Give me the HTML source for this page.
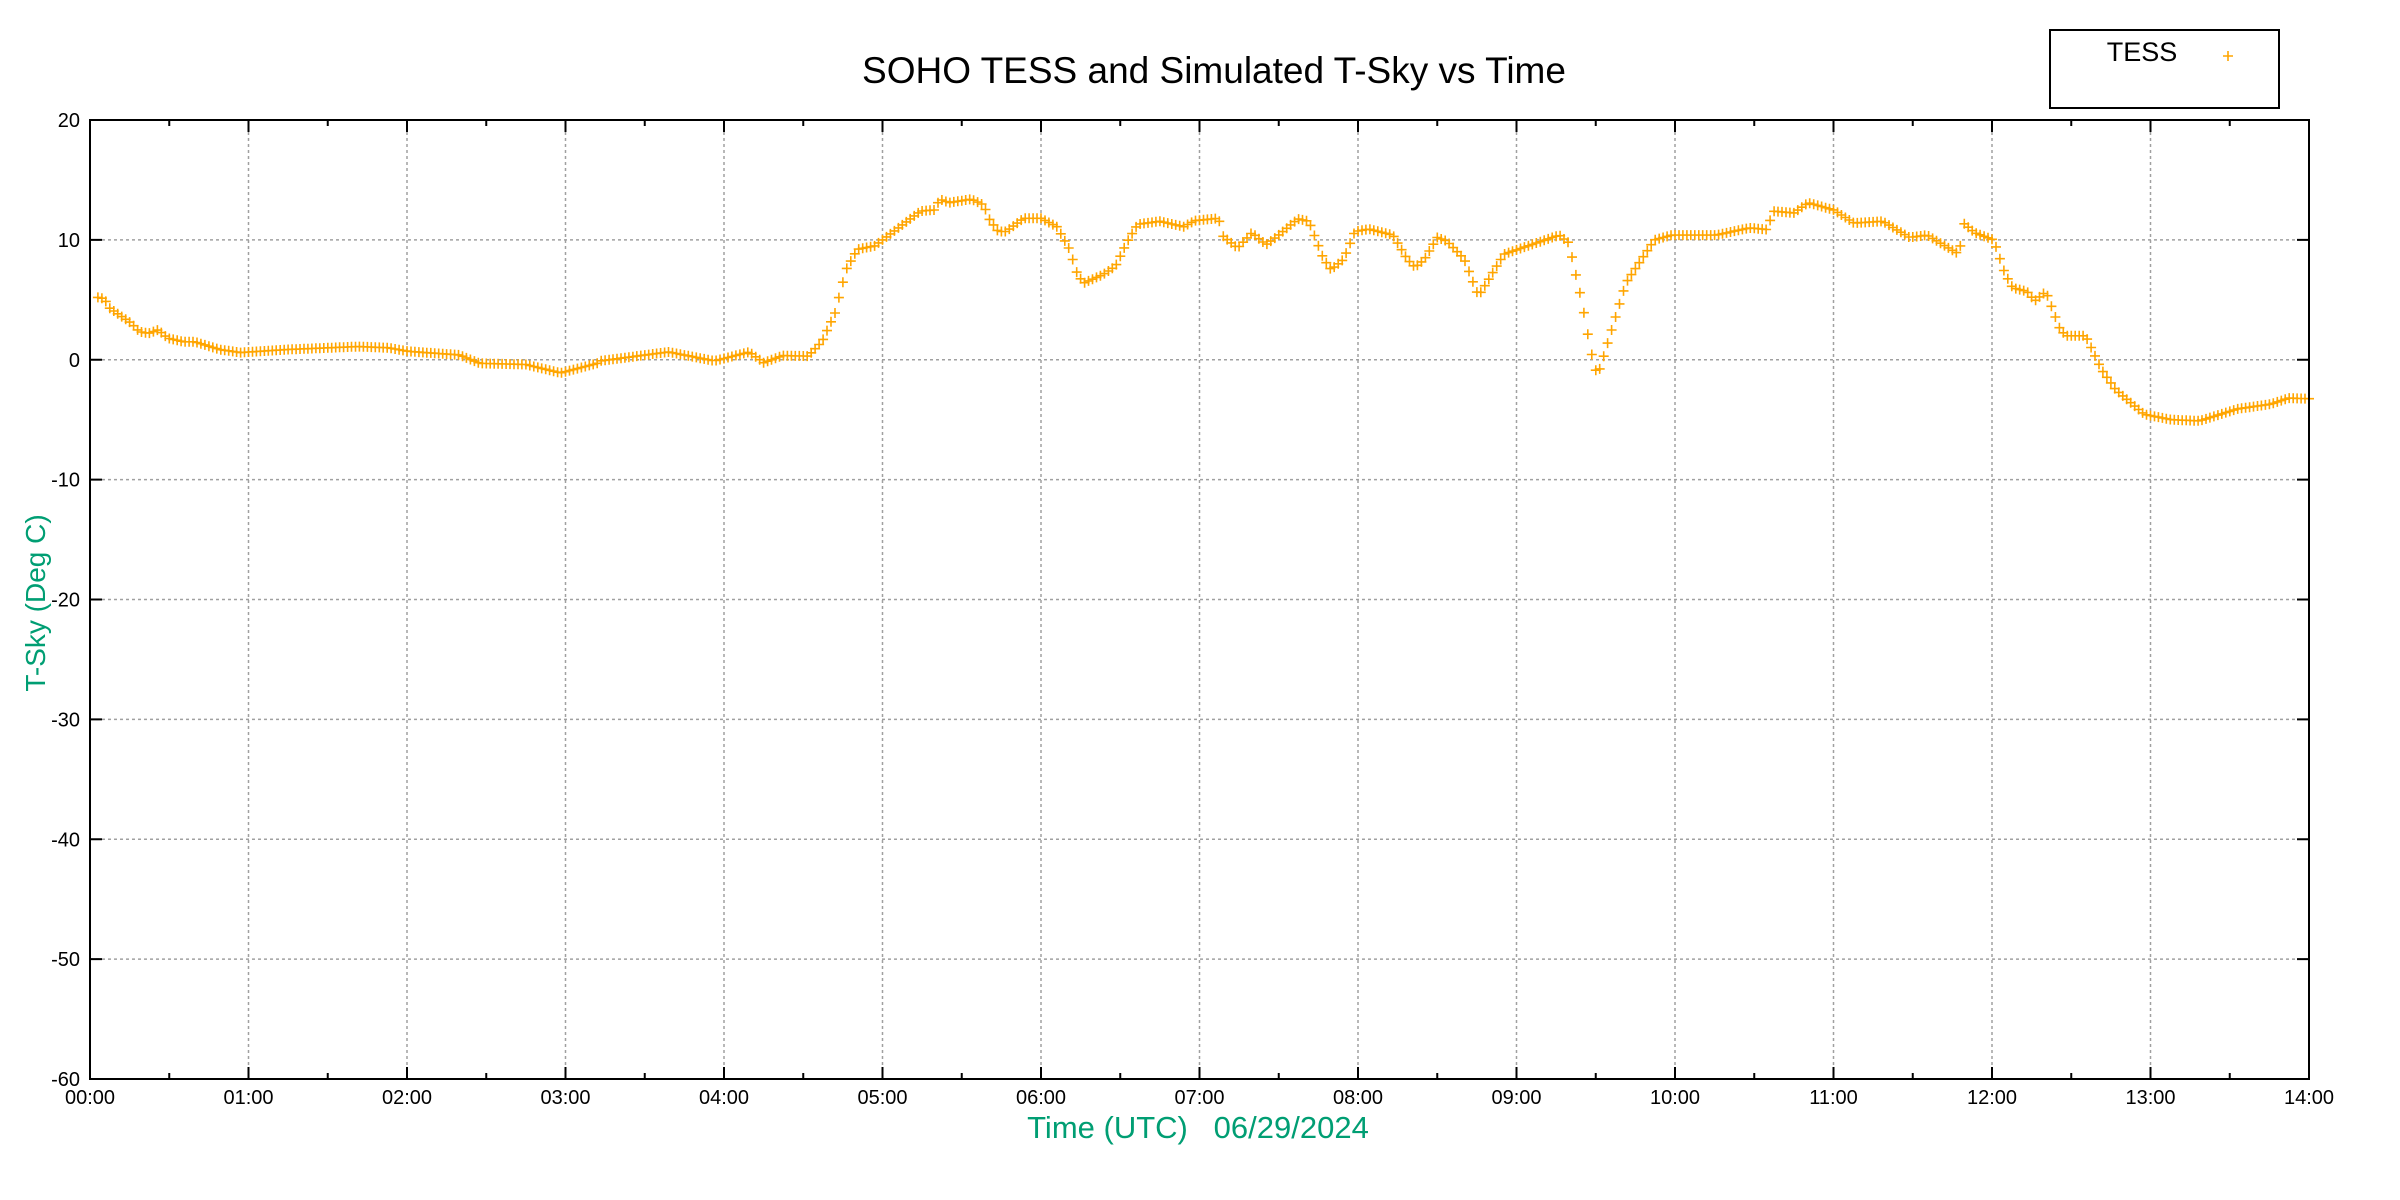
<!DOCTYPE html>
<html><head><meta charset="utf-8"><style>
html,body{margin:0;padding:0;background:#fff;}
svg{display:block;}
text{font-family:"Liberation Sans",sans-serif;}
</style></head><body>
<svg id="s" width="2400" height="1200" viewBox="0 0 2400 1200" xmlns="http://www.w3.org/2000/svg">
<rect width="2400" height="1200" fill="#fff"/>
<g id="grid" stroke="#a0a0a0" stroke-width="1.5" stroke-dasharray="3,3"></g>
<g id="ticks" stroke="#000" stroke-width="2"></g>
<g id="labels" font-size="20" fill="#000"></g>
<g id="pts" stroke="#FFA500" stroke-width="1.6" fill="none"></g>
<rect x="90" y="120" width="2219" height="959" fill="none" stroke="#000" stroke-width="2"/>
<text x="1214" y="83" font-size="37" text-anchor="middle" fill="#000">SOHO TESS and Simulated T-Sky vs Time</text>
<rect x="2050" y="30" width="229" height="78" fill="#fff" stroke="#000" stroke-width="2"/>
<text x="2142" y="61" font-size="27" text-anchor="middle" fill="#000">TESS</text>
<path d="M2223,56h10M2228,51v10" stroke="#FFA500" stroke-width="1.6"/>
<text x="1198" y="1138" font-size="31" text-anchor="middle" fill="#009e73" xml:space="preserve">Time (UTC)   06/29/2024</text>
<text transform="translate(45,603) rotate(-90)" font-size="28" text-anchor="middle" fill="#009e73">T-Sky (Deg C)</text>
</svg>
<script>
var X0=90,X1=2309,Y0=120,Y1=1079;
function px(h){return X0+(X1-X0)*h/14;}
function py(v){return Y0+(Y1-Y0)*(20-v)/80;}
var NS="http://www.w3.org/2000/svg";
function el(p,t,a,txt){var e=document.createElementNS(NS,t);for(var k in a)e.setAttribute(k,a[k]);if(txt!=null)e.textContent=txt;document.getElementById(p).appendChild(e);return e;}
var gd="";
for(var h=1;h<14;h++){var x=px(h);gd+="M"+x+","+Y0+"V"+Y1;}
for(var v=-50;v<20;v+=10){var y=py(v);gd+="M"+X0+","+y+"H"+X1;}
el("grid","path",{d:gd});
var td="";
for(var i=0;i<=28;i++){var x=px(i/2),L=(i%2==0)?12:6;td+="M"+x+","+Y1+"v-"+L+"M"+x+","+Y0+"v"+L;}
for(var v=-60;v<=20;v+=10){var y=py(v);td+="M"+X0+","+y+"h12M"+X1+","+y+"h-12";}
el("ticks","path",{d:td});
for(var h=0;h<=14;h++){var s=(h<10?"0":"")+h+":00";el("labels","text",{x:px(h),y:1104,"text-anchor":"middle"},s);}
for(var v=-60;v<=20;v+=10){el("labels","text",{x:80,y:py(v)+7,"text-anchor":"end"},String(v));}
var K=[[0.05,5.2],[0.09,5.1],[0.125,4.3],[0.2,3.6],[0.26,3.05],[0.31,2.35],[0.37,2.2],[0.43,2.5],[0.49,1.8],[0.59,1.5],[0.66,1.5],[0.82,0.85],[0.95,0.6],[1.24,0.85],[1.69,1.1],[1.88,1.0],[2.01,0.7],[2.33,0.4],[2.46,-0.3],[2.75,-0.4],[2.97,-1.1],[3.2,-0.3],[3.22,-0.1],[3.65,0.65],[3.94,-0.1],[4.16,0.65],[4.25,-0.25],[4.37,0.35],[4.53,0.3],[4.62,1.55],[4.70,3.9],[4.77,7.5],[4.84,9.2],[4.95,9.5],[5.09,10.9],[5.24,12.4],[5.33,12.5],[5.36,13.4],[5.42,13.1],[5.56,13.4],[5.64,12.9],[5.67,11.8],[5.73,10.7],[5.78,10.7],[5.89,11.8],[6.0,11.8],[6.1,11.1],[6.18,9.2],[6.23,7.1],[6.27,6.4],[6.39,7.1],[6.47,7.8],[6.54,9.75],[6.61,11.3],[6.75,11.55],[6.9,11.1],[6.97,11.6],[7.12,11.8],[7.15,10.3],[7.24,9.3],[7.33,10.6],[7.42,9.6],[7.49,10.3],[7.62,11.75],[7.69,11.55],[7.78,8.5],[7.83,7.5],[7.91,8.4],[7.98,10.7],[8.07,10.9],[8.22,10.4],[8.31,8.4],[8.36,7.7],[8.42,8.4],[8.5,10.2],[8.56,9.9],[8.67,8.4],[8.76,5.3],[8.92,8.8],[9.27,10.4],[9.33,9.75],[9.41,5.0],[9.47,0.7],[9.51,-1.4],[9.55,0.3],[9.69,6.4],[9.87,10.0],[9.98,10.4],[10.26,10.4],[10.47,11.0],[10.59,10.85],[10.61,12.4],[10.75,12.25],[10.84,13.1],[11.0,12.5],[11.13,11.4],[11.31,11.55],[11.48,10.2],[11.59,10.4],[11.69,9.6],[11.78,8.9],[11.8,9.5],[11.82,11.4],[11.89,10.6],[12.01,10.0],[12.08,7.25],[12.13,6.0],[12.22,5.7],[12.27,4.9],[12.34,5.7],[12.43,2.5],[12.47,2.0],[12.59,2.0],[12.69,-0.8],[12.78,-2.5],[12.96,-4.55],[13.13,-5.0],[13.31,-5.1],[13.55,-4.1],[13.76,-3.7],[13.87,-3.2],[14.0,-3.25]];
function f(h){for(var i=0;i<K.length-1;i++){if(h<=K[i+1][0]){var a=K[i],b=K[i+1];if(h<a[0])return a[1];var t=(h-a[0])/(b[0]-a[0]);return a[1]+t*(b[1]-a[1]);}}return K[K.length-1][1];}
var d="";
for(var m=3;m<=840;m+=1.5){var h=m/60,x=px(h),y=py(f(h));d+="M"+(x-5).toFixed(1)+","+y.toFixed(1)+"h10M"+x.toFixed(1)+","+(y-5).toFixed(1)+"v10";}
el("pts","path",{d:d});
</script>
</body></html>
